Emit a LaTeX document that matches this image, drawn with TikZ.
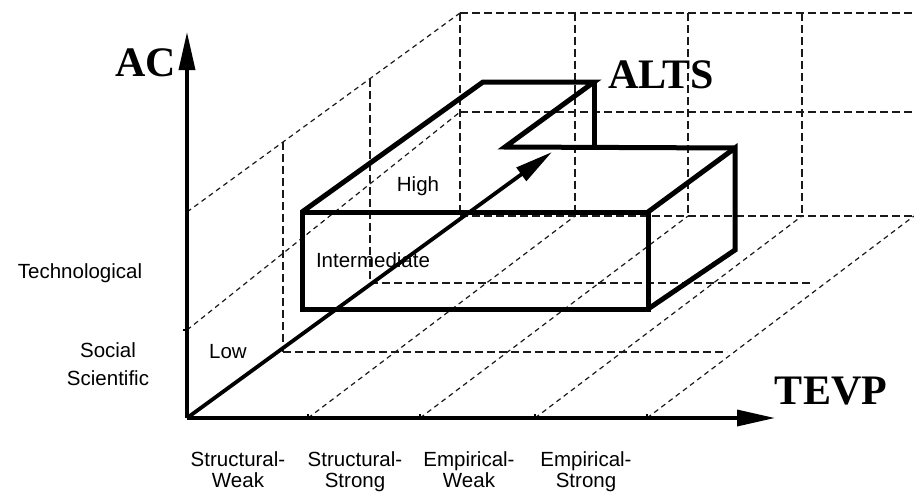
\documentclass[tikz,border=0pt]{standalone}
\usepackage{fontspec}
\setmainfont{Liberation Serif}
\setsansfont{Liberation Sans}
\usepackage{xcolor}
\usetikzlibrary{arrows.meta}
\definecolor{ink}{HTML}{000000}
\definecolor{gridgray}{HTML}{1A1A1A}

\begin{document}
\begin{tikzpicture}[x=1pt, y=-1pt,
    every node/.style={inner sep=0pt, color=ink},
    axisline/.style={line width=3.4pt, color=ink, -{Triangle[length=38pt, width=16pt]}},
    boxedge/.style={line width=5pt, color=ink, line join=miter},
    gridline/.style={line width=1.4pt, color=gridgray, dash pattern=on 8pt off 4pt},
    slantline/.style={line width=1.2pt, color=gridgray, dash pattern=on 5pt off 4pt},
    biglabel/.style={font=\fontsize{42}{44}\selectfont\bfseries},
    smalllabel/.style={font=\sffamily\fontsize{20.5}{21.5}\selectfont, align=center}]
  \useasboundingbox (0,0) rectangle (914,499);
  \draw[slantline] (308,418) -- (575,216);
  \draw[slantline] (420,418) -- (688,216);
  \draw[slantline] (535,418) -- (802,216);
  \draw[slantline] (647,418) -- (914,216);
  \draw[slantline] (187,330) -- (460,112);
  \draw[slantline] (187,212) -- (460,13);
  \draw[gridline] (283,352) -- (727,352);
  \draw[gridline] (370,283) -- (813,283);
  \draw[gridline] (460,216) -- (914,216);
  \draw[gridline] (460,112) -- (914,112);
  \draw[gridline] (460,13) -- (914,13);
  \draw[gridline] (283,142) -- (283,352);
  \draw[gridline] (370,79) -- (370,283);
  \draw[gridline] (460,13) -- (460,216);
  \draw[gridline] (575,13) -- (575,216);
  \draw[gridline] (688,13) -- (688,216);
  \draw[gridline] (802,13) -- (802,216);
  \coordinate (O) at (187,418);
  \coordinate (acend) at (187,32);
  \coordinate (tevpend) at (775,418);
  \coordinate (altsend) at (552,152);
  \draw[axisline] (O) -- (acend);
  \draw[axisline] (O) -- (tevpend);
  \draw[axisline, line width=3.8pt] (O) -- (altsend);
  \draw[line width=1.6pt] (187,330) -- ++(-4,0) (308,418) -- ++(0,-4) (420,418) -- ++(0,-4)
    (535,418) -- ++(0,-4) (647,418) -- ++(0,-4);
  \coordinate (fbl) at (302,309);
  \coordinate (fbr) at (648,309);
  \coordinate (ftr) at (648,212);
  \coordinate (ftl) at (302,212);
  \coordinate (rbb) at (735,250);
  \coordinate (rbt) at (735,148);
  \coordinate (notchin) at (505,147);
  \coordinate (notchbk) at (594,82);
  \coordinate (notchft) at (594,147);
  \coordinate (backtl) at (483,82);
  \draw[boxedge] (fbl) -- (fbr) -- (ftr) -- (ftl) -- cycle;
  \draw[boxedge] (fbr) -- (rbb) -- (rbt) -- (ftr);
  \draw[boxedge] (rbt) -- (notchin) -- (notchbk) -- (backtl) -- (ftl);
  \draw[boxedge] (notchbk) -- (notchft);
  \node[biglabel] (ac) at (146,63) {AC};
  \node[biglabel] (alts) at (661,75) {ALTS};
  \node[biglabel] (tevp) at (831,391) {TEVP};
  \node[smalllabel] (high) at (418,186) {High};
  \node[smalllabel] (mid) at (373,260) {Intermediate};
  \node[smalllabel] (low) at (228,352) {Low};
  \node[smalllabel] (tech) at (80,273) {Technological};
  \node[smalllabel, font=\sffamily\fontsize{20.5}{28}\selectfont] (soc) at (108,364) {Social\\Scientific};
  \node[smalllabel, anchor=north] (sw) at (238,451) {Structural-\\Weak};
  \node[smalllabel, anchor=north] (ss) at (355,451) {Structural-\\Strong};
  \node[smalllabel, anchor=north] (ew) at (469,451) {Empirical-\\Weak};
  \node[smalllabel, anchor=north] (es) at (586,451) {Empirical-\\Strong};
\end{tikzpicture}
\end{document}
